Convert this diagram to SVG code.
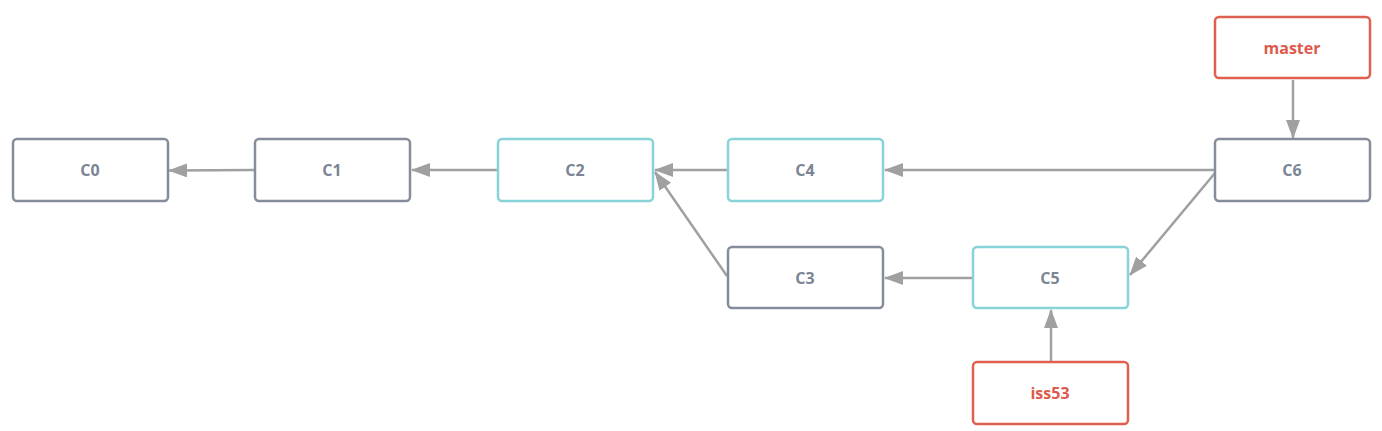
<svg xmlns="http://www.w3.org/2000/svg" width="1382" height="431" viewBox="0 0 1382 431">
<style>
.n rect{fill:#fff;stroke-width:2.5}
.g rect{stroke:#858d9a}
.t rect{stroke:#87d3d8}
.r rect{stroke:#e0604f}
.n text{font-family:"Open Sans","Noto Sans","Liberation Sans",sans-serif;font-weight:bold;font-size:16px;text-anchor:middle;dominant-baseline:central}
.g text,.t text{fill:#7b8595}
.r text{fill:#dd5a4c}
#edges line{stroke:#a0a0a0;stroke-width:2.5;marker-end:url(#ah)}
</style>
<defs>
<marker id="ah" markerUnits="userSpaceOnUse" markerWidth="19" markerHeight="14" refX="18" refY="7" orient="auto" viewBox="0 0 19 14">
<path d="M0,0 L19,7 L0,14 z" fill="#a0a0a0"/>
</marker>
</defs>
<rect width="1382" height="431" fill="#fff"/>
<g id="edges">
<line x1="255" y1="170" x2="169" y2="170.5"/>
<line x1="498" y1="170" x2="412" y2="170"/>
<line x1="728" y1="170" x2="655" y2="170"/>
<line x1="1215" y1="170" x2="885" y2="170"/>
<line x1="1215" y1="173" x2="1130" y2="275"/>
<line x1="973" y1="278" x2="885" y2="278"/>
<line x1="727" y1="276" x2="655" y2="172"/>
<line x1="1293" y1="80" x2="1293" y2="138"/>
<line x1="1051" y1="361" x2="1051" y2="310"/>
</g>
<g id="C0" class="n g"><rect x="13" y="139" width="155" height="62" rx="4"/><text x="90" y="170">C0</text></g>
<g id="C1" class="n g"><rect x="255" y="139" width="155" height="62" rx="4"/><text x="332" y="170">C1</text></g>
<g id="C2" class="n t"><rect x="498" y="139" width="155" height="62" rx="4"/><text x="575" y="170">C2</text></g>
<g id="C4" class="n t"><rect x="728" y="139" width="155" height="62" rx="4"/><text x="805" y="170">C4</text></g>
<g id="C6" class="n g"><rect x="1215" y="139" width="155" height="62" rx="4"/><text x="1292" y="170">C6</text></g>
<g id="C3" class="n g"><rect x="728" y="247" width="155" height="61" rx="4"/><text x="805" y="278">C3</text></g>
<g id="C5" class="n t"><rect x="973" y="247" width="155" height="61" rx="4"/><text x="1050" y="278">C5</text></g>
<g id="master" class="n r"><rect x="1215" y="17" width="155" height="61" rx="4"/><text x="1292" y="48">master</text></g>
<g id="iss53" class="n r"><rect x="973" y="362" width="155" height="62" rx="4"/><text x="1050" y="393">iss53</text></g>
</svg>
